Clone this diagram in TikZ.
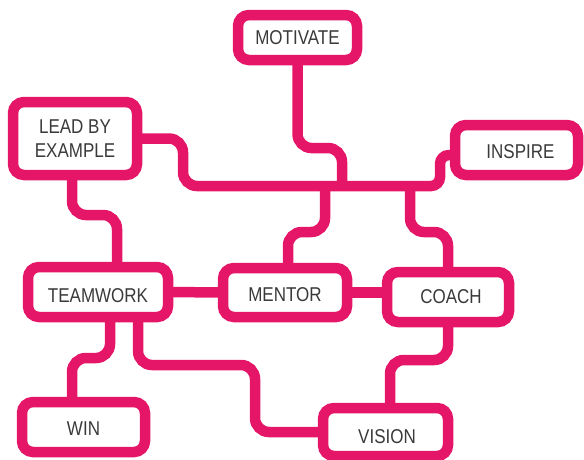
\documentclass[tikz,border=0pt]{standalone}
\usepackage{fontspec}
\setmainfont{Liberation Sans}[FakeStretch=0.85]
\definecolor{mmpink}{RGB}{229,22,104}
\definecolor{mmink}{RGB}{58,58,58}
\newcommand{\mmlow}[2]{\vphantom{#2}\raisebox{-#1}[0pt][0pt]{#2}}
\begin{document}
\begin{tikzpicture}[x=1pt,y=-1pt,
  box/.style={draw=mmpink, line width=10.5pt, rounded corners=11pt, fill=white,
    inner sep=0pt, outer sep=0pt, text=mmink, font=\fontsize{20}{24}\selectfont, align=center},
  conn/.style={draw=mmpink, line width=10.5pt, rounded corners=14pt}]
\useasboundingbox (0,0) rectangle (584,459);
\node[box, minimum width=119pt, minimum height=45pt] (mot) at (297.5,37.5) {MOTIVATE};
\node[box, minimum width=124pt, minimum height=73pt] (lead) at (75,138.5) {LEAD BY\\EXAMPLE};
\node[box, minimum width=123pt, minimum height=50pt] (insp) at (516.5,150) {\hspace*{8pt}\mmlow{2pt}{INSPIRE}};
\node[box, minimum width=140pt, minimum height=50pt] (team) at (98,292) {\mmlow{4pt}{TEAMWORK}};
\node[box, minimum width=124pt, minimum height=49pt] (ment) at (285,292.5) {\mmlow{2.5pt}{MENTOR}};
\node[box, minimum width=122pt, minimum height=50pt] (coach) at (448,297) {\hspace*{6pt}COACH};
\node[box, minimum width=123pt, minimum height=50pt] (win) at (83.5,427) {\mmlow{2pt}{WIN}};
\node[box, minimum width=125pt, minimum height=48pt] (vis) at (385.5,432) {\hspace*{3pt}\mmlow{4.5pt}{VISION}};
\coordinate (hub) at (330,186);
\coordinate (j1) at (342,186);
\coordinate (j2) at (325,186);
\coordinate (j3) at (410,186);
\draw[conn] (lead.east) -| (183,186) -- (hub);
\draw[conn, rounded corners=9pt] (hub) -- (440,186) |- ([yshift=-5pt]insp.west);
\draw[conn] (mot.south) |- (342,148) -- (j1);
\draw[conn] (j2) -- (325,232) -| ([xshift=3pt]ment.north);
\draw[conn] (j3) -- (410,232) -| (coach.north);
\draw[conn] ([xshift=-3pt]lead.south) |- (117,215) -- ([xshift=19pt]team.north);
\draw[conn] (team.east) -- (ment.west);
\draw[conn] (ment.east) -- (ment.east -| coach.west);
\draw[conn] ([xshift=12pt]team.south) |- (72,358) -- ([xshift=-11.5pt]win.north);
\draw[conn] ([xshift=40pt]team.south) |- (255,365) |- (vis.west);
\draw[conn] (coach.south) |- (390,360) -- ([xshift=4.5pt]vis.north);
\end{tikzpicture}
\end{document}
